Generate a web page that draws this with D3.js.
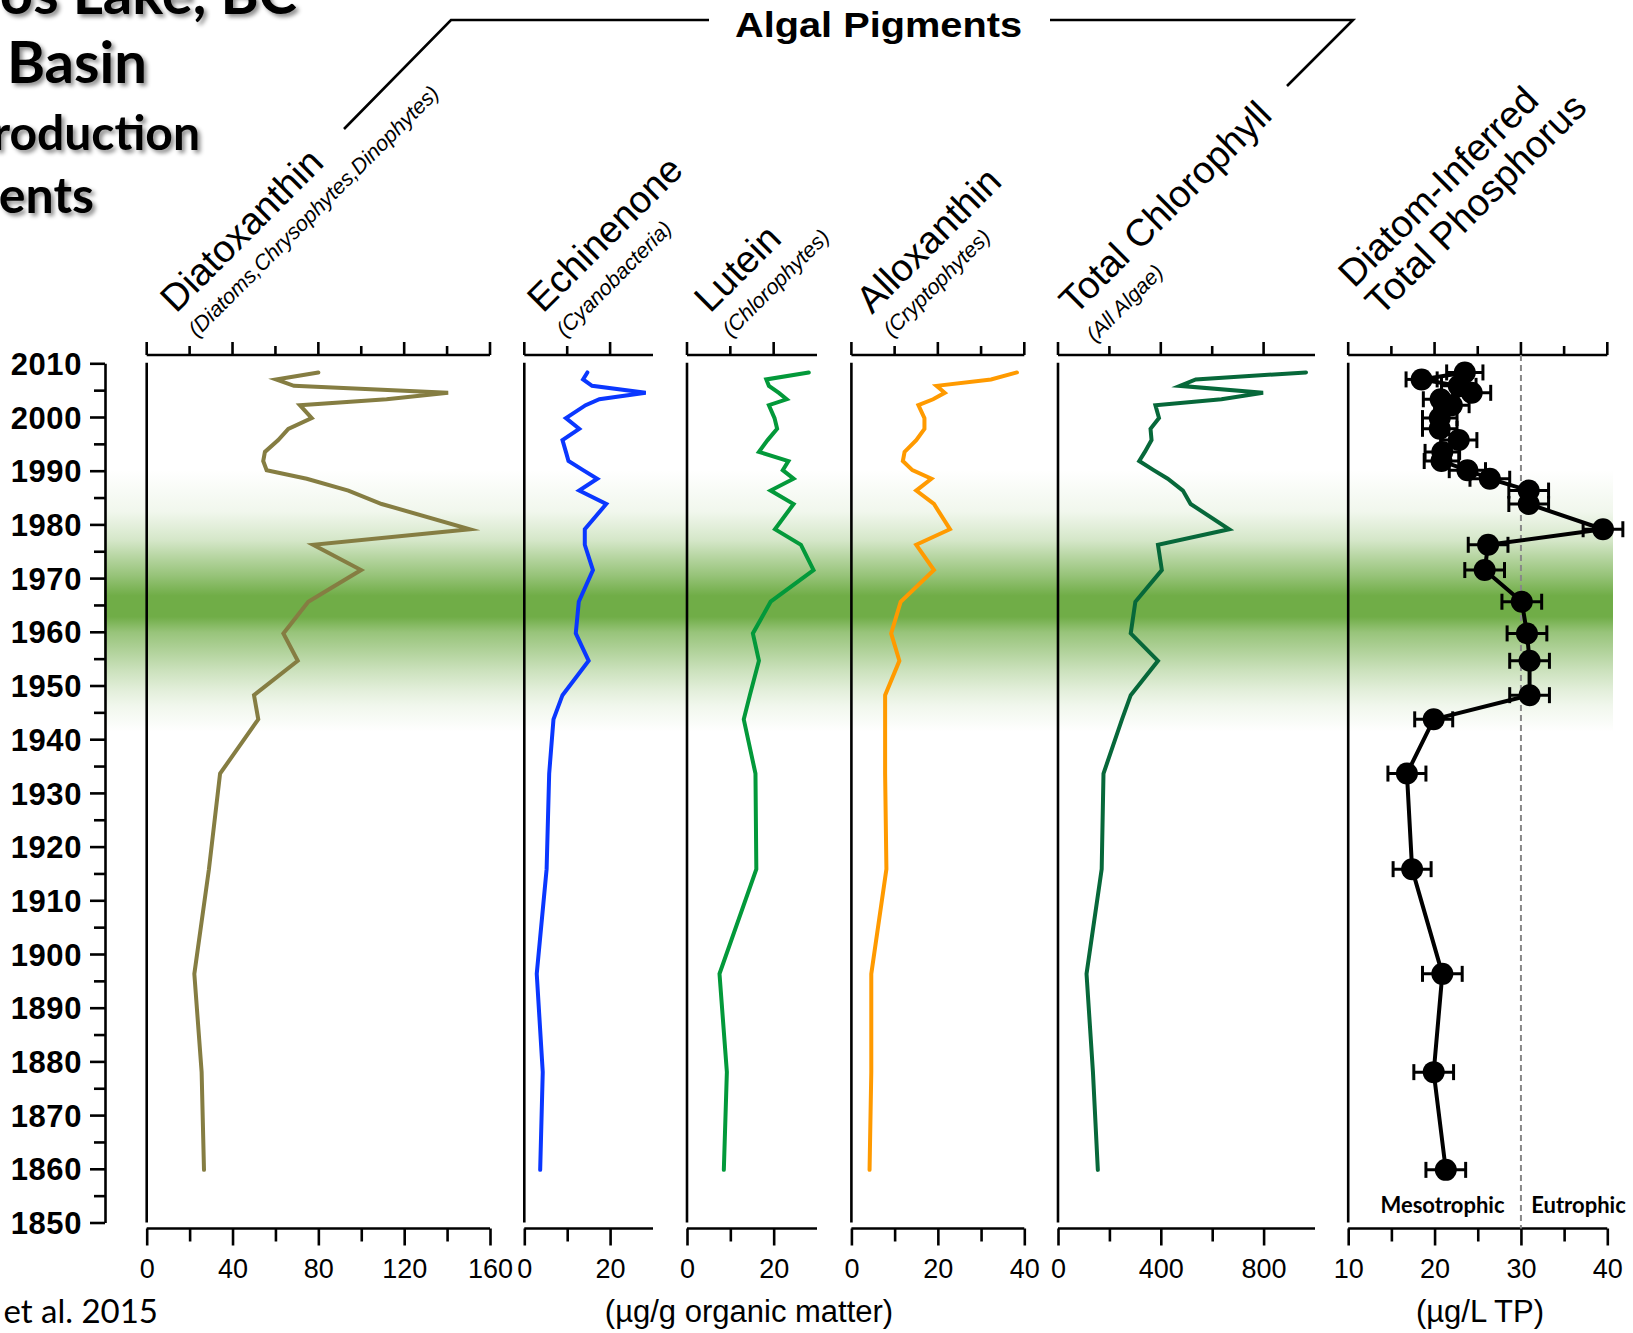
<!DOCTYPE html>
<html>
<head>
<meta charset="utf-8">
<script src="https://cdn.jsdelivr.net/npm/d3@7"></script>
<style>
  body { margin: 0; background: #fff; }
  svg { display: block; font-family: "Liberation Sans", Arial, sans-serif; }
</style>
</head>
<body>
<div id="chart"></div>
<script>
// Sediment core pigment profiles + diatom-inferred TP

// sample ages (year AD) shared by all profiles
const sampleYears = [2008.3, 2007.0, 2005.8, 2004.5, 2003.3, 2002.2, 1999.8, 1997.8,
  1995.7, 1993.5, 1991.8, 1990.1, 1988.5, 1986.3, 1983.8, 1979.1, 1976.2, 1971.5,
  1965.6, 1959.7, 1954.6, 1948.2, 1943.7, 1933.6, 1915.8, 1896.3, 1878.0, 1859.8];

const diatoxanthin = [80, 60.3, 68.6, 140.5, 111.8, 71.4, 76.9, 66.0, 61.3, 55.1, 54.3,
  55.9, 74.6, 94.0, 109.5, 150.6, 77.6, 99.9, 75.3, 63.7, 70.4, 50.0, 52.0, 34.2, 29.0,
  22.2, 25.6, 26.7];

const echinenone = [14.7, 13.7, 15.8, 28.3, 17.5, 14.3, 9.7, 12.8, 8.9, 9.7, 10.3, 13.7,
  17.0, 12.8, 19.1, 14.1, 14.1, 16.0, 12.7, 12.0, 15.0, 8.9, 6.8, 5.8, 5.2, 2.9, 4.3, 3.7];

const lutein = [28.1, 18.3, 18.9, 21.2, 23.0, 18.9, 20.2, 20.8, 18.6, 16.6, 23.4, 22.1,
  24.6, 19.3, 24.6, 20.3, 26.3, 29.2, 19.3, 15.2, 16.6, 14.5, 13.1, 15.8, 16.0, 7.5, 9.2, 8.5];

const alloxanthin = [38.3, 32.3, 19.7, 21.6, 18.9, 15.5, 16.9, 16.9, 15.0, 12.3, 11.9,
  14.1, 18.5, 15.0, 19.1, 22.8, 15.0, 19.1, 11.4, 9.2, 11.1, 7.8, 7.8, 7.8, 8.1, 4.6, 4.6, 4.2];

const totalChlorophyll = [965, 536, 474, 798, 636, 379, 393, 360, 364, 338, 316, 372,
  427, 486, 516, 666, 389, 404, 301, 283, 389, 283, 249, 177, 170, 111, 136, 155];

const diTP = [23.5, 18.5, 22.8, 24.3, 20.7, 22.0, 20.6, 20.6, 22.8, 20.9, 20.8, 23.8,
  26.4, 30.9, 30.9, 39.5, 26.2, 25.8, 30.1, 30.7, 31.0, 31.0, 19.9, 16.8, 17.4, 20.9, 19.9, 21.3];

const diTPError = [2.1, 1.8, 2.0, 2.2, 2.0, 2.0, 2.0, 2.0, 2.1, 2.0, 2.0, 2.1, 2.3, 2.3,
  2.3, 2.3, 2.3, 2.3, 2.3, 2.3, 2.3, 2.3, 2.2, 2.2, 2.2, 2.3, 2.3, 2.3];

// axis ticks
const yearMajorTicks = d3.range(1850, 2011, 10);
const yearMinorTicks = d3.range(1855, 2010, 10);
const diatoxTicks = [0, 20, 40, 60, 80, 100, 120, 140, 160];
const diatoxLabels = [0, 40, 80, 120, 160];
const echinTicks = [0, 10, 20];
const echinLabels = [0, 20];
const luteinTicks = [0, 10, 20];
const luteinLabels = [0, 20];
const alloxTicks = [0, 10, 20, 30, 40];
const alloxLabels = [0, 20, 40];
const chlTicks = [0, 200, 400, 600, 800];
const chlLabels = [0, 400, 800];
const tpTicks = [10, 15, 20, 25, 30, 35, 40];
const tpLabels = [10, 20, 30, 40];
const trophicBoundary = 30;

document.addEventListener("DOMContentLoaded", () => {
  const W = 1633, H = 1333;
  const svg = d3.select("#chart").append("svg")
    .attr("width", W).attr("height", H)
    .attr("viewBox", `0 0 ${W} ${H}`);

  const defs = svg.append("defs");

  // --------------------------------------------------------------
  // band gradient + title shadow
  // --------------------------------------------------------------
  const grad = defs.append("linearGradient")
    .attr("id", "band")
    .attr("gradientUnits", "userSpaceOnUse")
    .attr("x1", 0).attr("x2", 0).attr("y1", 470).attr("y2", 732);
  [[0, 0], [0.16, 0.1], [0.27, 0.3], [0.33, 0.5], [0.4, 0.72], [0.48, 1], [0.56, 1],
   [0.62, 0.72], [0.71, 0.5], [0.77, 0.35], [0.84, 0.2], [0.9, 0.1], [1, 0]]
    .forEach(([o, a]) => {
      grad.append("stop").attr("offset", o)
        .attr("stop-color", "#70ad47").attr("stop-opacity", a);
    });

  const shadow = defs.append("filter").attr("id", "shadow")
    .attr("x", "-10%").attr("y", "-20%").attr("width", "130%").attr("height", "150%");
  shadow.append("feDropShadow")
    .attr("dx", 3).attr("dy", 3).attr("stdDeviation", 2)
    .attr("flood-color", "#000").attr("flood-opacity", 0.45);

  // --------------------------------------------------------------
  // scales
  // --------------------------------------------------------------
  const yTop = 363.3, yBottom = 1222.5;
  const y = d3.scaleLinear().domain([1850, 2010]).range([yBottom, yTop]);
  const axisTopY = 355, axisBottomY = 1228.5;

  const panels = [
    { key: "diatox", values: diatoxanthin, domain: [0, 160], range: [146.7, 490],
      ticks: diatoxTicks, labels: diatoxLabels, color: "#857d42" },
    { key: "echin", values: echinenone, domain: [0, 30], range: [524.3, 653],
      ticks: echinTicks, labels: echinLabels, color: "#0a37ff" },
    { key: "lutein", values: lutein, domain: [0, 30], range: [687, 817],
      ticks: luteinTicks, labels: luteinLabels, color: "#03993a" },
    { key: "allox", values: alloxanthin, domain: [0, 40], range: [851.4, 1024.3],
      ticks: alloxTicks, labels: alloxLabels, color: "#ff9a00" },
    { key: "chl", values: totalChlorophyll, domain: [0, 1000], range: [1058, 1315],
      ticks: chlTicks, labels: chlLabels, color: "#07683a" },
    { key: "tp", values: diTP, domain: [10, 40], range: [1348.2, 1607.3],
      ticks: tpTicks, labels: tpLabels, color: "#000" }
  ];
  panels.forEach(p => { p.x = d3.scaleLinear().domain(p.domain).range(p.range); });

  // --------------------------------------------------------------
  // green band behind everything
  // --------------------------------------------------------------
  svg.append("rect")
    .attr("x", 104).attr("y", 470).attr("width", 1613 - 104).attr("height", 262)
    .attr("fill", "url(#band)");

  // --------------------------------------------------------------
  // year axis
  // --------------------------------------------------------------
  const yAxisG = svg.append("g").attr("transform", "translate(105,0)");
  yAxisG.append("g")
    .call(d3.axisLeft(y).tickValues(yearMinorTicks).tickSize(11).tickSizeOuter(0).tickFormat(""))
    .call(g => g.select(".domain").remove());
  yAxisG.append("g")
    .call(d3.axisLeft(y).tickValues(yearMajorTicks).tickSize(15).tickSizeOuter(0)
      .tickPadding(8).tickFormat(d3.format("d")));
  yAxisG.selectAll("path, line").attr("stroke", "#000").attr("stroke-width", 2.6);
  yAxisG.selectAll("text")
    .attr("font-family", "'Liberation Sans', Arial, sans-serif")
    .attr("font-size", 31).attr("font-weight", "bold").attr("fill", "#000")
    .attr("letter-spacing", 0.6)
    .attr("dy", "0.36em");

  // --------------------------------------------------------------
  // panel axes
  // --------------------------------------------------------------
  panels.forEach(p => {
    const g = svg.append("g").attr("class", "panel-" + p.key);

    const minor = p.ticks.filter(t => !p.labels.includes(t));

    // top axis
    const top = g.append("g").attr("transform", `translate(0,${axisTopY})`);
    top.append("line").attr("x1", p.range[0]).attr("x2", p.range[1])
      .attr("y1", 0).attr("y2", 0);
    top.selectAll("line.major").data(p.labels).join("line").attr("class", "major")
      .attr("x1", d => p.x(d)).attr("x2", d => p.x(d)).attr("y1", 0).attr("y2", -13);
    top.selectAll("line.minor").data(minor).join("line").attr("class", "minor")
      .attr("x1", d => p.x(d)).attr("x2", d => p.x(d)).attr("y1", 0).attr("y2", -9);

    // bottom axis
    const bot = g.append("g").attr("transform", `translate(0,${axisBottomY})`);
    bot.append("g")
      .call(d3.axisBottom(p.x).tickValues(minor).tickSize(13).tickSizeOuter(0).tickFormat(""))
      .call(a => a.select(".domain").remove());
    bot.append("g")
      .call(d3.axisBottom(p.x).tickValues(p.labels).tickSize(17).tickSizeOuter(0));
    bot.select(".domain").attr("d", `M${p.range[0]},0H${p.range[1]}`);
    bot.selectAll("text")
      .attr("font-family", "'Liberation Sans', Arial, sans-serif")
      .attr("font-size", 27).attr("fill", "#000")
      .attr("y", 49).attr("dy", null);

    g.selectAll("line, path").attr("stroke", "#000").attr("stroke-width", 2.6).attr("fill", "none");

    // left vertical line of panel
    g.append("line")
      .attr("x1", p.range[0]).attr("x2", p.range[0])
      .attr("y1", yTop - 0.5).attr("y2", yBottom)
      .attr("stroke", "#000").attr("stroke-width", 2.6);
  });

  // --------------------------------------------------------------
  // pigment profiles
  // --------------------------------------------------------------
  panels.filter(p => p.key !== "tp").forEach(p => {
    const pts = sampleYears.map((yr, i) => [p.x(p.values[i]), y(yr)]);
    svg.append("path")
      .attr("d", d3.line()(pts))
      .attr("fill", "none")
      .attr("stroke", p.color)
      .attr("stroke-width", 4)
      .attr("stroke-linecap", "round")
      .attr("stroke-linejoin", "miter")
      .attr("stroke-miterlimit", 6);
  });

  // --------------------------------------------------------------
  // DI-TP panel: boundary, line, error bars, dots
  // --------------------------------------------------------------
  const tp = panels.find(p => p.key === "tp");
  svg.append("line")
    .attr("x1", tp.x(trophicBoundary)).attr("x2", tp.x(trophicBoundary))
    .attr("y1", axisTopY).attr("y2", axisBottomY)
    .attr("stroke", "#888").attr("stroke-width", 2).attr("stroke-dasharray", "6,4");

  const tpData = sampleYears.map((yr, i) => ({ year: yr, v: diTP[i], e: diTPError[i] }));

  svg.append("path")
    .attr("d", d3.line().x(d => tp.x(d.v)).y(d => y(d.year))(tpData))
    .attr("fill", "none").attr("stroke", "#000").attr("stroke-width", 4)
    .attr("stroke-linejoin", "round");

  const errG = svg.append("g").attr("stroke", "#000").attr("stroke-width", 3);
  tpData.forEach(d => {
    const cy = y(d.year), x0 = tp.x(d.v - d.e), x1 = tp.x(d.v + d.e);
    errG.append("line").attr("x1", x0).attr("x2", x1).attr("y1", cy).attr("y2", cy);
    errG.append("line").attr("x1", x0).attr("x2", x0).attr("y1", cy - 8).attr("y2", cy + 8);
    errG.append("line").attr("x1", x1).attr("x2", x1).attr("y1", cy - 8).attr("y2", cy + 8);
  });

  svg.append("g").selectAll("circle").data(tpData).join("circle")
    .attr("cx", d => tp.x(d.v)).attr("cy", d => y(d.year)).attr("r", 11)
    .attr("fill", "#000");

  const trophicFont = "Lato, 'Open Sans', sans-serif";
  svg.append("text").attr("x", 1442.5).attr("y", 1213).attr("text-anchor", "middle")
    .attr("font-family", trophicFont).attr("font-weight", "bold").attr("font-size", 22)
    .text("Mesotrophic");
  svg.append("text").attr("x", 1578.5).attr("y", 1213).attr("text-anchor", "middle")
    .attr("font-family", trophicFont).attr("font-weight", "bold").attr("font-size", 22)
    .text("Eutrophic");

  // --------------------------------------------------------------
  // rotated column headings
  // --------------------------------------------------------------
  const headings = [
    { text: "Diatoxanthin", x: 176, y: 314, size: 38, italic: false },
    { text: "(Diatoms,Chrysophytes,Dinophytes)", x: 197, y: 338, size: 21.5, italic: true },
    { text: "Echinenone", x: 543, y: 314, size: 38, italic: false },
    { text: "(Cyanobacteria)", x: 565, y: 338, size: 21.5, italic: true },
    { text: "Lutein", x: 710, y: 314, size: 38, italic: false },
    { text: "(Chlorophytes)", x: 731, y: 338, size: 21.5, italic: true },
    { text: "Alloxanthin", x: 872, y: 315, size: 38, italic: false },
    { text: "(Cryptophytes)", x: 892, y: 338, size: 21.5, italic: true },
    { text: "Total Chlorophyll", x: 1075, y: 316, size: 38, italic: false },
    { text: "(All Algae)", x: 1095, y: 343, size: 21.5, italic: true },
    { text: "Diatom-Inferred", x: 1354, y: 289, size: 38, italic: false },
    { text: "Total Phosphorus", x: 1381, y: 317, size: 38, italic: false }
  ];
  svg.append("g").selectAll("text").data(headings).join("text")
    .attr("transform", d => `translate(${d.x},${d.y}) rotate(-45)`)
    .attr("font-size", d => d.size)
    .attr("font-style", d => d.italic ? "italic" : "normal")
    .attr("fill", "#000")
    .text(d => d.text);

  // --------------------------------------------------------------
  // "Algal Pigments" bracket
  // --------------------------------------------------------------
  svg.append("path")
    .attr("d", "M344,129 L451,20 L709,20")
    .attr("fill", "none").attr("stroke", "#000").attr("stroke-width", 2.6);
  svg.append("path")
    .attr("d", "M1050,20 L1353,20 L1287,86")
    .attr("fill", "none").attr("stroke", "#000").attr("stroke-width", 2.6);
  svg.append("text")
    .attr("x", 735).attr("y", 37)
    .attr("font-size", 35).attr("font-weight", "bold")
    .attr("textLength", 287).attr("lengthAdjust", "spacingAndGlyphs")
    .text("Algal Pigments");

  // --------------------------------------------------------------
  // units
  // --------------------------------------------------------------
  svg.append("text").attr("x", 749).attr("y", 1322).attr("text-anchor", "middle")
    .attr("font-size", 31).text("(µg/g organic matter)");
  svg.append("text").attr("x", 1480).attr("y", 1322).attr("text-anchor", "middle")
    .attr("font-size", 31).text("(µg/L TP)");

  // --------------------------------------------------------------
  // slide title (cut off at left edge, as on the slide) + source
  // --------------------------------------------------------------
  const titleFont = "Lato, 'Open Sans', sans-serif";
  const titleLines = [
    { text: "os Lake, BC", x: 297, y: 14, size: 58 },
    { text: "Basin", x: 147, y: 83, size: 58 },
    { text: "roduction", x: 200, y: 150, size: 48 },
    { text: "ents", x: 94, y: 213, size: 50 }
  ];
  svg.append("g").attr("filter", "url(#shadow)")
    .selectAll("text").data(titleLines).join("text")
    .attr("x", d => d.x).attr("y", d => d.y)
    .attr("text-anchor", "end")
    .attr("font-family", titleFont).attr("font-weight", "bold")
    .attr("font-size", d => d.size)
    .text(d => d.text);

  svg.append("text").attr("x", 158).attr("y", 1323).attr("text-anchor", "end")
    .attr("font-family", titleFont).attr("font-size", 33)
    .text("et al. 2015");
});
</script>
</body>
</html>
